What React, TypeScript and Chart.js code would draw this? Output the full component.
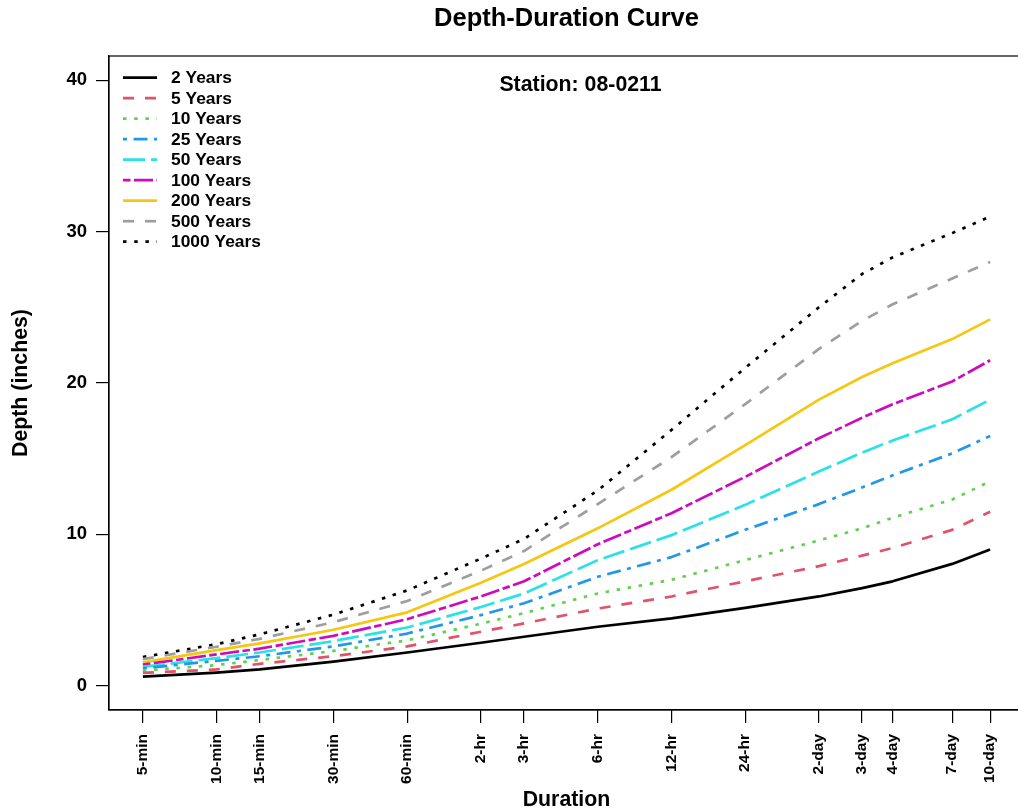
import React, { useEffect, useRef } from "react";
import { Chart, registerables } from "chart.js";

Chart.register(...registerables);

// ---- data ----
const durationMinutes = [5, 10, 15, 30, 60, 120, 180, 360, 720, 1440, 2880, 4320, 5760, 10080, 14400];
const durationLabels = ["5-min", "10-min", "15-min", "30-min", "60-min", "2-hr", "3-hr", "6-hr", "12-hr", "24-hr", "2-day", "3-day", "4-day", "7-day", "10-day"];
const yTickValues = [0, 10, 20, 30, 40];

const depth2yr = [0.6, 0.87, 1.08, 1.6, 2.2, 2.84, 3.24, 3.9, 4.45, 5.15, 5.9, 6.45, 6.9, 8.05, 9.0];
const depth5yr = [0.85, 1.08, 1.45, 1.95, 2.6, 3.57, 4.12, 5.1, 5.9, 6.9, 7.9, 8.6, 9.1, 10.3, 11.5];
const depth10yr = [1.0, 1.37, 1.7, 2.3, 3.0, 4.1, 4.8, 6.1, 7.0, 8.3, 9.6, 10.4, 11.1, 12.3, 13.5];
const depth25yr = [1.15, 1.65, 1.95, 2.6, 3.45, 4.67, 5.45, 7.2, 8.5, 10.3, 12.0, 13.1, 13.9, 15.35, 16.5];
const depth50yr = [1.25, 1.83, 2.2, 2.95, 3.85, 5.2, 6.1, 8.3, 9.95, 11.95, 14.15, 15.4, 16.2, 17.6, 18.9];
const depth100yr = [1.4, 2.07, 2.45, 3.3, 4.4, 5.9, 6.9, 9.35, 11.4, 13.8, 16.35, 17.7, 18.6, 20.1, 21.5];
const depth200yr = [1.55, 2.36, 2.8, 3.7, 4.85, 6.8, 8.05, 10.4, 12.95, 15.9, 18.9, 20.4, 21.3, 22.9, 24.2];
const depth500yr = [1.76, 2.58, 3.1, 4.2, 5.6, 7.6, 8.9, 12.0, 15.1, 18.6, 22.25, 24.1, 25.2, 26.9, 28.0];
const depth1000yr = [1.9, 2.75, 3.4, 4.7, 6.3, 8.4, 9.7, 12.9, 16.9, 21.0, 25.0, 27.2, 28.3, 29.9, 31.0];

const seriesNames = ["2 Years", "5 Years", "10 Years", "25 Years", "50 Years", "100 Years", "200 Years", "500 Years", "1000 Years"];
const seriesValues = [depth2yr, depth5yr, depth10yr, depth25yr, depth50yr, depth100yr, depth200yr, depth500yr, depth1000yr];

// ---- styles ----
const seriesColors = ["#000000", "#DF536B", "#61D04F", "#2297E6", "#28E2E5", "#CD0BBC", "#F5C710", "#9E9E9E", "#000000"];
const DASHED = [11, 11];
const DOTTED = [3.5, 7.7];
const DOTDASH = [4, 6.5, 14, 6.5];
const LONGDASH = [22, 6];
const TWODASH = [7.5, 3.5, 19, 3.5];
const seriesDashes = [[], DASHED, DOTTED, DOTDASH, LONGDASH, TWODASH, [], DASHED, DOTTED];

const FONT = '"Liberation Sans", Arial, Helvetica, sans-serif';
const W = 1040;
const H = 812;

// x range: R-style 4% extension on log scale
const lx0 = Math.log10(durationMinutes[0]);
const lx1 = Math.log10(durationMinutes[durationMinutes.length - 1]);
const ext = (lx1 - lx0) * 0.04;
const X_MIN = Math.pow(10, lx0 - ext);
const X_MAX = Math.pow(10, lx1 + ext);
const Y_MIN = -1.6;
const Y_MAX = 41.6;

const annotPlugin = {
  id: "annot",
  beforeDraw(chart: any) {
    const ctx = chart.ctx;
    ctx.save();
    ctx.fillStyle = "#ffffff";
    ctx.fillRect(0, 0, chart.width, chart.height);
    ctx.restore();
  },
  afterDraw(chart: any) {
    const ctx = chart.ctx;
    const a = chart.chartArea;
    const cx = (a.left + a.right) / 2;
    ctx.save();
    // box
    ctx.strokeStyle = "#000";
    ctx.lineWidth = 1.2;
    ctx.setLineDash([]);
    ctx.strokeRect(a.left, a.top, a.right - a.left, a.bottom - a.top);

    ctx.fillStyle = "#000";
    // title
    ctx.font = `bold 25.5px ${FONT}`;
    ctx.textAlign = "center";
    ctx.textBaseline = "middle";
    ctx.fillText("Depth-Duration Curve", cx, 19);
    // station
    ctx.font = `bold 21.3px ${FONT}`;
    ctx.fillText("Station: 08-0211", cx + 14, 85);
    // x title
    ctx.font = `bold 21.3px ${FONT}`;
    ctx.fillText("Duration", cx, 800);
    // y title
    ctx.save();
    ctx.translate(21, (a.top + a.bottom) / 2);
    ctx.rotate(-Math.PI / 2);
    ctx.fillText("Depth (inches)", 0, 0);
    ctx.restore();

    // legend
    const ds = chart.data.datasets;
    ctx.font = `bold 17.4px ${FONT}`;
    ctx.textAlign = "left";
    ctx.textBaseline = "middle";
    for (let i = 0; i < ds.length; i++) {
      const y = 77.7 + i * 20.5;
      ctx.beginPath();
      ctx.strokeStyle = ds[i].borderColor;
      ctx.lineWidth = ds[i].borderWidth;
      ctx.setLineDash(ds[i].borderDash || []);
      ctx.lineCap = "butt";
      ctx.moveTo(123, y);
      ctx.lineTo(157, y);
      ctx.stroke();
      ctx.setLineDash([]);
      ctx.fillStyle = "#000";
      ctx.fillText(ds[i].label, 171, y + 1);
    }
    ctx.restore();
  },
};

export default function App() {
  const ref = useRef<HTMLCanvasElement | null>(null);

  useEffect(() => {
    const canvas = ref.current;
    if (!canvas) return;
    const datasets = seriesNames.map((name, i) => ({
      label: name,
      data: durationMinutes.map((m, j) => ({ x: m, y: seriesValues[i][j] })),
      borderColor: seriesColors[i],
      backgroundColor: seriesColors[i],
      borderWidth: 2.7,
      borderDash: seriesDashes[i],
      borderCapStyle: "butt",
      borderJoinStyle: "round",
      pointRadius: 0,
      tension: 0,
      fill: false,
    }));

    const chart = new Chart(canvas, {
      type: "line",
      data: { datasets } as any,
      plugins: [annotPlugin],
      options: {
        animation: false,
        responsive: false,
        devicePixelRatio: 1,
        layout: { padding: { top: 56, right: 16, left: 0, bottom: 0 } },
        plugins: {
          legend: { display: false },
          title: { display: false },
          tooltip: { enabled: false },
        },
        scales: {
          x: {
            type: "logarithmic",
            bounds: "data",
            min: X_MIN,
            max: X_MAX,
            afterBuildTicks: (s: any) => {
              s.ticks = durationMinutes.map((v) => ({ value: v }));
            },
            afterFit: (s: any) => {
              s.height = H - 710;
            },
            ticks: {
              autoSkip: false,
              minRotation: 90,
              maxRotation: 90,
              padding: 11,
              color: "#000",
              font: { family: FONT, size: 15.5, weight: "bold" },
              callback: (_v: any, i: number) => durationLabels[i],
            },
            grid: {
              drawOnChartArea: false,
              drawTicks: true,
              tickLength: 13,
              color: "#000",
              tickColor: "#000",
              lineWidth: 1.2,
            },
            border: { display: true, color: "#000", width: 1.2 },
          },
          y: {
            type: "linear",
            bounds: "data",
            min: Y_MIN,
            max: Y_MAX,
            afterBuildTicks: (s: any) => {
              s.ticks = yTickValues.map((v) => ({ value: v }));
            },
            afterFit: (s: any) => {
              s.width = 109;
            },
            ticks: {
              padding: 9,
              color: "#000",
              font: { family: FONT, size: 18.5, weight: "bold" },
              callback: (v: any) => String(v),
            },
            grid: {
              drawOnChartArea: false,
              drawTicks: true,
              tickLength: 13,
              color: "#000",
              tickColor: "#000",
              lineWidth: 1.2,
            },
            border: { display: true, color: "#000", width: 1.2 },
          },
        },
      } as any,
    });
    return () => chart.destroy();
  }, []);

  return (
    <div
      style={{
        position: "fixed",
        left: 0,
        top: 0,
        width: 1018,
        height: 812,
        overflow: "hidden",
        background: "#fff",
      }}
    >
      <canvas ref={ref} width={W} height={H} style={{ width: W, height: H, display: "block" }} />
    </div>
  );
}
